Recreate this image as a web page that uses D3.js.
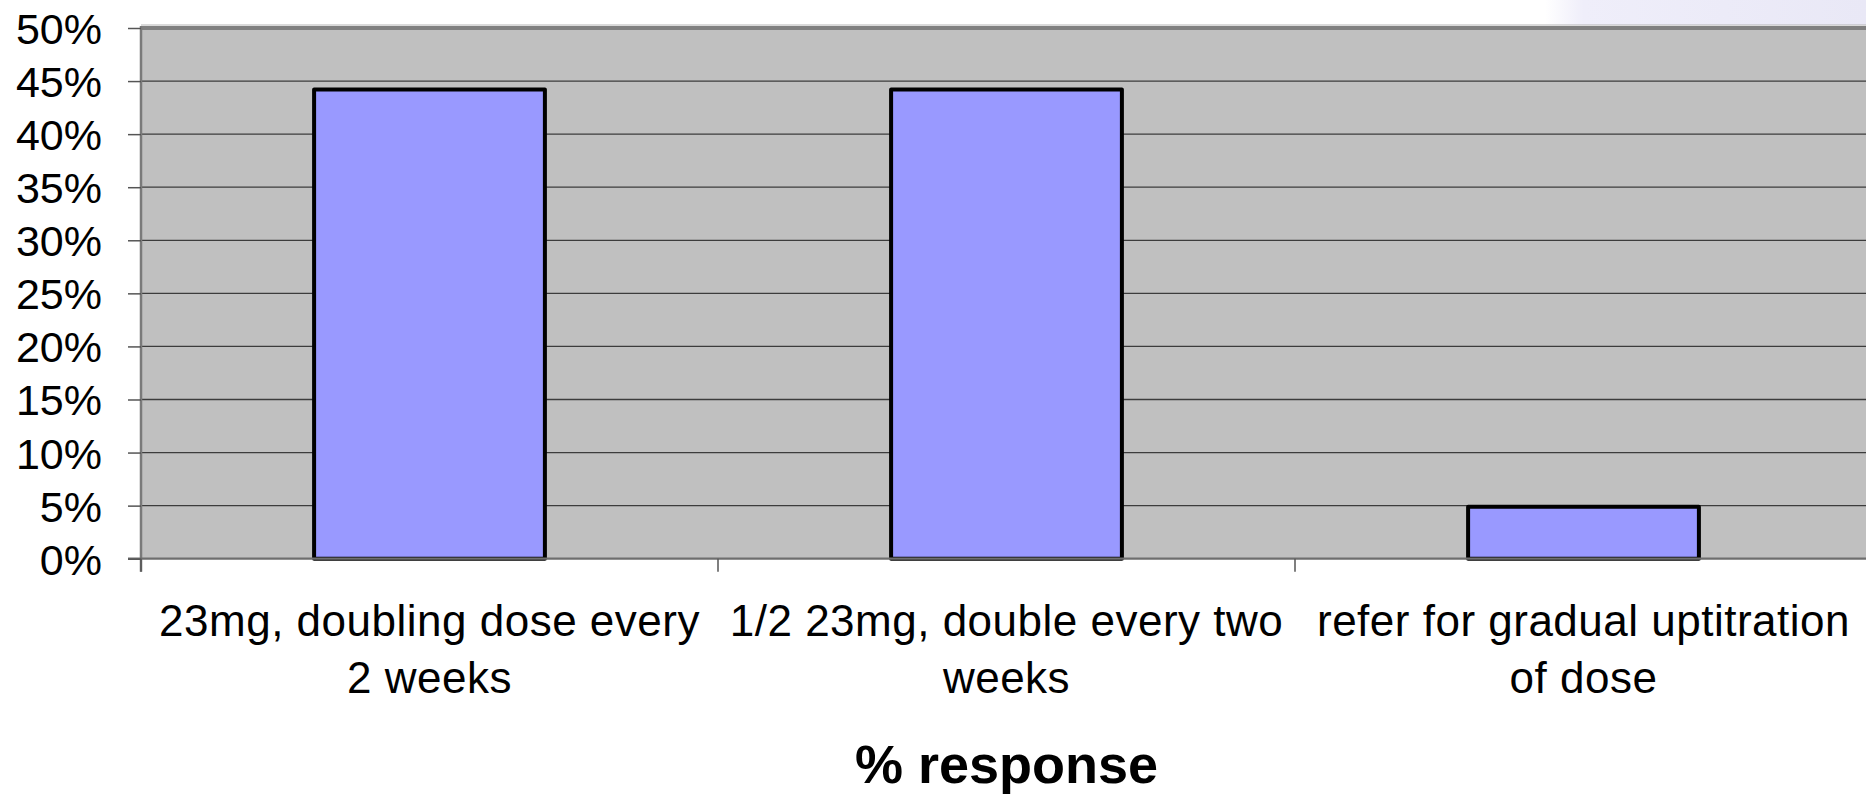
<!DOCTYPE html>
<html>
<head>
<meta charset="utf-8">
<script src="https://cdn.jsdelivr.net/npm/d3@7"></script>
<style>
  html, body { margin: 0; padding: 0; background: #ffffff; }
  svg { display: block; }
  text { font-family: "Liberation Sans", Arial, Helvetica, sans-serif; fill: #000; }
</style>
</head>
<body>
<svg id="chart" width="1866" height="794"></svg>
<script>
// Responses per dosing approach (share of respondents)
const categories = [
  "23mg, doubling dose every 2 weeks",
  "1/2 23mg, double every two weeks",
  "refer for gradual uptitration of dose"
];
const categoryLines = [
  ["23mg, doubling dose every", "2 weeks"],
  ["1/2 23mg, double every two", "weeks"],
  ["refer for gradual uptitration", "of dose"]
];
const responses = [0.442, 0.442, 0.049];
const yTicks = [0, 0.05, 0.10, 0.15, 0.20, 0.25, 0.30, 0.35, 0.40, 0.45, 0.50];
const axisTitle = "% response";

const W = 1866, H = 794;
const plot = { left: 141, top: 28, bottom: 558.7, step: 577 };
plot.right = plot.left + categories.length * plot.step;

const svg = d3.select("#chart");

// soft lavender wash of the slide background, upper right
const defs = svg.append("defs");
const wash = defs.append("linearGradient").attr("id", "wash").attr("x1", 0).attr("x2", 1).attr("y1", 0).attr("y2", 0);
wash.append("stop").attr("offset", "0%").attr("stop-color", "#ffffff");
wash.append("stop").attr("offset", "12%").attr("stop-color", "#efeefa");
wash.append("stop").attr("offset", "100%").attr("stop-color", "#e9e8f6");
svg.append("rect").attr("x", 1545).attr("y", 0).attr("width", W - 1545).attr("height", plot.top - 3)
  .attr("fill", "url(#wash)");

const x = d3.scaleBand()
  .domain(categories)
  .range([plot.left, plot.right])
  .paddingInner(0.6)
  .paddingOuter(0.3);

const y = d3.scaleLinear()
  .domain([0, 0.5])
  .range([plot.bottom, plot.top]);

// plot area
svg.append("rect")
  .attr("x", plot.left).attr("y", plot.top)
  .attr("width", plot.right - plot.left).attr("height", plot.bottom - plot.top)
  .attr("fill", "#c0c0c0");

// horizontal gridlines
svg.append("g")
  .selectAll("line")
  .data(yTicks.filter(t => t > 0 && t < 0.5))
  .join("line")
  .attr("x1", plot.left).attr("x2", plot.right)
  .attr("y1", d => y(d)).attr("y2", d => y(d))
  .attr("stroke", "#3c3c3c").attr("stroke-width", 1.3);

// plot border: top edge and left edge
svg.append("line")
  .attr("x1", plot.left).attr("x2", plot.right)
  .attr("y1", plot.top - 3).attr("y2", plot.top - 3)
  .attr("stroke", "#b4b4b4").attr("stroke-width", 1);
svg.append("line")
  .attr("x1", plot.left).attr("x2", plot.right)
  .attr("y1", y(0.5)).attr("y2", y(0.5))
  .attr("stroke", "#808080").attr("stroke-width", 4);
svg.append("line")
  .attr("x1", plot.left).attr("x2", plot.left)
  .attr("y1", plot.top - 2).attr("y2", plot.bottom + 13)
  .attr("stroke", "#7a7a7a").attr("stroke-width", 2.5);

// bars
svg.append("g")
  .selectAll("rect")
  .data(categories)
  .join("rect")
  .attr("x", d => x(d))
  .attr("width", x.bandwidth())
  .attr("y", (d, i) => y(responses[i]))
  .attr("height", (d, i) => y(0) - y(responses[i]))
  .attr("fill", "#9999ff")
  .attr("stroke", "#000")
  .attr("stroke-width", 4)
  .attr("stroke-linejoin", "round");

// category axis line
svg.append("line")
  .attr("x1", plot.left - 13).attr("x2", plot.right)
  .attr("y1", y(0)).attr("y2", y(0))
  .attr("stroke", "#6e6e6e").attr("stroke-width", 2.2);

// value axis: ticks and percentage labels
const yAxis = d3.axisLeft(y)
  .tickValues(yTicks)
  .tickSizeInner(13)
  .tickSizeOuter(0)
  .tickPadding(26)
  .tickFormat(d3.format(".0%"));
const gy = svg.append("g")
  .attr("transform", `translate(${plot.left},0)`)
  .call(yAxis);
gy.select(".domain").remove();
gy.selectAll(".tick line").attr("stroke", "#555").attr("stroke-width", 1.5);
gy.selectAll(".tick text")
  .attr("font-size", 43)
  .attr("dy", "0.36em")
  .attr("fill", "#000")
  .attr("font-family", "Liberation Sans, Arial, sans-serif");

// category boundaries: tick marks below the axis
const boundaries = categories.map(c => x(c) - x.step() * x.paddingOuter()).concat([plot.right]);
svg.append("g")
  .selectAll("line")
  .data(boundaries)
  .join("line")
  .attr("x1", d => d).attr("x2", d => d)
  .attr("y1", y(0)).attr("y2", y(0) + 13)
  .attr("stroke", "#555").attr("stroke-width", 1.5);

// category labels, two lines each
const labels = svg.append("g")
  .selectAll("text")
  .data(categories)
  .join("text")
  .attr("text-anchor", "middle")
  .attr("font-size", 44)
  .attr("letter-spacing", 0.5)
  .attr("transform", d => `translate(${x(d) + x.bandwidth() / 2},0)`);
labels.selectAll("tspan")
  .data((d, i) => categoryLines[i])
  .join("tspan")
  .attr("x", 0)
  .attr("y", (d, j) => 636 + j * 57)
  .text(d => d);

// axis title
svg.append("text")
  .attr("x", (plot.left + plot.right) / 2)
  .attr("y", 783)
  .attr("text-anchor", "middle")
  .attr("font-size", 54)
  .attr("font-weight", "bold")
  .text(axisTitle);
</script>
</body>
</html>
